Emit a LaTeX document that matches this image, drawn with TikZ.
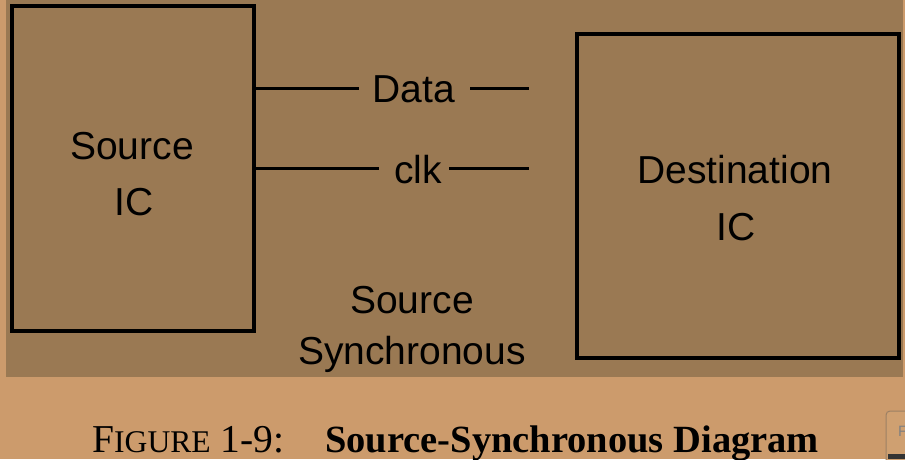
\documentclass[tikz,border=0pt]{standalone}
\usepackage{fontspec}
\setmainfont{Liberation Sans}
\newfontfamily\capfont{Liberation Serif}
\usetikzlibrary{calc,backgrounds}
\definecolor{pagetan}{RGB}{204,155,108}
\definecolor{panelbrown}{RGB}{154,121,83}
\definecolor{btnedge}{RGB}{156,128,100}
\definecolor{btnfill}{RGB}{207,160,113}

\begin{document}
\begin{tikzpicture}[x=1pt,y=-1pt]
            \tikzset{ICBox/.style={draw=black,line width=4pt,fill=panelbrown,inner sep=0pt}};
            \tikzset{BigText/.style={font=\fontsize{39}{47}\selectfont,inner sep=0pt,anchor=base}};
            \tikzset{Wire/.style={draw=black,line width=3pt}};
            \tikzset{CapText/.style={font=\capfont\fontsize{39.5}{41}\selectfont,inner sep=0pt,anchor=base west}};

            \useasboundingbox (0,0) rectangle (905,459);
            \fill[pagetan] (0,0) rectangle (905,459);
            \fill[panelbrown] (6,0) rectangle (903,377);

            % chips
            \node[ICBox,minimum width=242,minimum height=325] (src) at (133,168.5){};
            \node[ICBox,minimum width=322,minimum height=324] (dst) at (738,196){};
            \node[BigText] (srcA) at (132,159){Source};
            \node[BigText] (srcB) at (134,215){IC};
            \node[BigText] (dstA) at (735,183){Destination};
            \node[BigText] (dstB) at (736,240){IC};

            % wires
            \node[BigText] (data) at (414,102){Data};
            \node[BigText] (clk) at (418,183){clk};
            \coordinate (dataL) at (359,88);
            \coordinate (dataR) at (470,88);
            \coordinate (dataEnd) at (529,88);
            \coordinate (clkL) at (379,168);
            \coordinate (clkR) at (449,168);
            \coordinate (clkEnd) at (529,168);
            \draw[Wire] (src.east |- dataL) -- (dataL);
            \draw[Wire] (dataR) -- (dataEnd);
            \draw[Wire] (src.east |- clkL) -- (clkL);
            \draw[Wire] (clkR) -- (clkEnd);

            \node[BigText] (modeA) at (412,313){Source};
            \node[BigText] (modeB) at (412,364){Synchronous};

            % caption
            \node[CapText] (fig) at (92,452){F{\fontsize{31.6}{33}\selectfont IGURE} 1-9:};
            \node[CapText,font=\capfont\bfseries\fontsize{38.5}{40}\selectfont] (title) at (325,452){Source-Synchronous Diagram};

            % corner button
            \draw[btnedge,fill=btnfill,line width=1pt,rounded corners=4pt] (886,411) rectangle (930,480);
            \node[anchor=base west,inner sep=0pt,text=gray,font=\fontsize{15}{17}\selectfont] (btn) at (898,436){F};
            \fill[black!80] (888,454) rectangle (905,459);
\end{tikzpicture}
\end{document}
